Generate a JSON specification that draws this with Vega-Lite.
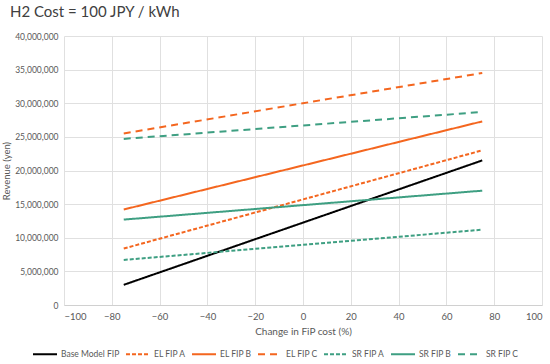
{
  "$schema": "https://vega.github.io/schema/vega-lite/v6.json",
  "width": 478,
  "height": 269,
  "padding": {"left": 1, "top": 5, "right": 2, "bottom": 2},
  "background": "white",
  "title": {"text": "H2 Cost = 100 JPY / kWh", "anchor": "start", "frame": "group", "offset": 12, "dx": -54, "fontSize": 15, "fontWeight": "normal", "font": "Lato", "color": "#404040"},
  "config": {"view": {"stroke": null}, "font": "Lato"},
  "data": {"values": [
    {"series": "Base Model FIP", "x": -75, "y": 3000000},
    {"series": "Base Model FIP", "x": 75, "y": 21500000},
    {"series": "EL FIP A", "x": -75, "y": 8400000},
    {"series": "EL FIP A", "x": 75, "y": 23000000},
    {"series": "EL FIP B", "x": -75, "y": 14200000},
    {"series": "EL FIP B", "x": 75, "y": 27300000},
    {"series": "EL FIP C", "x": -75, "y": 25500000},
    {"series": "EL FIP C", "x": 75, "y": 34500000},
    {"series": "SR FIP A", "x": -75, "y": 6700000},
    {"series": "SR FIP A", "x": 75, "y": 11200000},
    {"series": "SR FIP B", "x": -75, "y": 12700000},
    {"series": "SR FIP B", "x": 75, "y": 17000000},
    {"series": "SR FIP C", "x": -75, "y": 24700000},
    {"series": "SR FIP C", "x": 75, "y": 28700000}
  ]},
  "mark": {"type": "line", "strokeWidth": 2},
  "encoding": {
    "x": {"field": "x", "type": "quantitative", "scale": {"domain": [-100, 100], "nice": false},
      "axis": {"values": [-100, -80, -60, -40, -20, 0, 20, 40, 60, 80, 100], "title": "Change in FiP cost (%)", "titleFontWeight": "normal", "titleFontSize": 10, "titleColor": "#595959", "labelColor": "#595959", "labelFontSize": 9.5, "gridColor": "#E0E0E0", "domainColor": "#D0D0D0", "ticks": false, "labelPadding": 6, "titlePadding": 6}},
    "y": {"field": "y", "type": "quantitative", "scale": {"domain": [0, 40000000], "nice": false},
      "axis": {"values": [0, 5000000, 10000000, 15000000, 20000000, 25000000, 30000000, 35000000, 40000000], "format": ",.0f", "title": "Revenue (yen)", "titleFontWeight": "normal", "titleFontSize": 9.5, "titleColor": "#595959", "labelColor": "#595959", "labelFontSize": 8.5, "gridColor": "#E0E0E0", "domain": false, "ticks": false, "labelPadding": 6, "titlePadding": 3}},
    "color": {"field": "series", "type": "nominal",
      "scale": {"domain": ["Base Model FIP", "EL FIP A", "EL FIP B", "EL FIP C", "SR FIP A", "SR FIP B", "SR FIP C"],
        "range": ["#000000", "#F4661F", "#F4661F", "#F4661F", "#3E9F82", "#3E9F82", "#3E9F82"]},
      "legend": {"orient": "none", "legendX": -32, "legendY": 305, "direction": "horizontal", "title": null, "symbolType": "stroke", "symbolSize": 576, "symbolStrokeWidth": 2, "labelFontSize": 8.5, "labelColor": "#595959", "columnPadding": 2, "labelOffset": 3, "labelLimit": 200}},
    "strokeDash": {"field": "series", "type": "nominal",
      "scale": {"domain": ["Base Model FIP", "EL FIP A", "EL FIP B", "EL FIP C", "SR FIP A", "SR FIP B", "SR FIP C"],
        "range": [[1, 0], [4, 2], [1, 0], [7, 5], [4, 2], [1, 0], [7, 5]]},
      "legend": {"orient": "none", "legendX": -32, "legendY": 305, "direction": "horizontal", "title": null, "symbolType": "stroke", "symbolSize": 576, "symbolStrokeWidth": 2, "labelFontSize": 8.5, "labelColor": "#595959", "columnPadding": 2, "labelOffset": 3, "labelLimit": 200}}
  }
}
